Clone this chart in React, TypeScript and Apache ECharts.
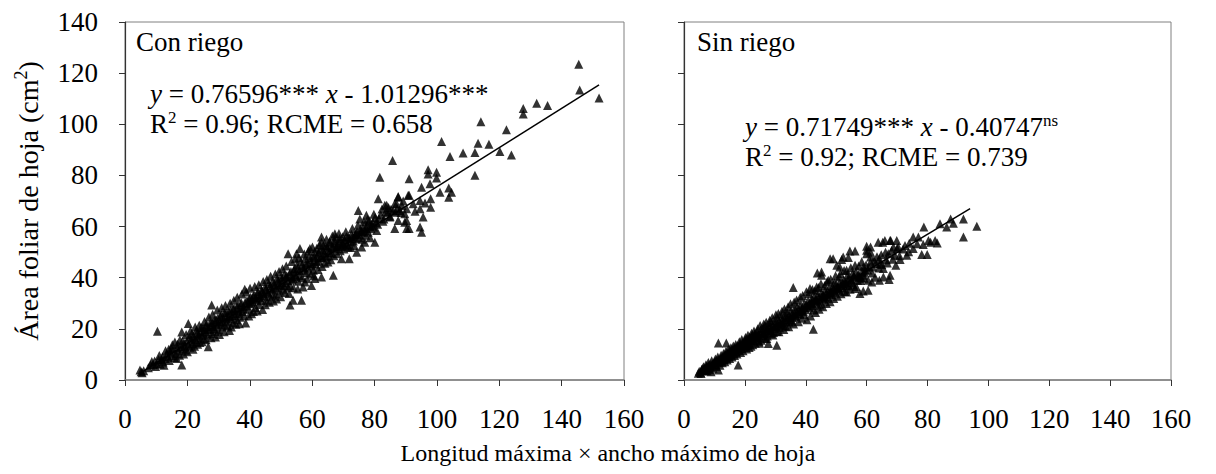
import React, { useEffect, useRef } from "react";
import * as echarts from "echarts";

// Con riego: [longitud × ancho, área foliar]
const conRiego: number[][] = [
  [4.8,3.9],[5.2,3.2],[5.5,2.8],[6.0,3.6],[7.5,4.8],[8.2,5.9],[9.0,6.1],[9.5,7.4],[10.2,6.5],[10.4,19.1],[10.8,8.0],[11.3,6.2],[11.8,7.9],[12.0,9.1],[12.5,5.8],[12.9,8.4],[13.4,10.2],[13.8,9.0],[14.2,7.6],[14.6,10.9],[15.0,9.6],[15.4,11.8],[15.9,8.8],[16.3,10.4],[16.8,12.6],[17.2,11.3],[17.5,9.7],[18.0,13.0],[18.2,5.9],[18.2,18.8],[18.6,12.2],[19.0,14.4],[19.4,11.6],[19.8,15.2],[20.3,22.1],[20.4,13.6],[20.8,12.8],[21.2,16.0],[21.5,14.3],[22.0,17.1],[22.3,13.2],[22.7,15.8],[23.1,18.3],[23.5,16.4],[24.0,14.7],[24.2,19.0],[24.6,17.5],[25.0,20.4],[25.3,16.1],[25.8,18.9],[26.2,21.7],[26.5,17.6],[26.7,13.0],[27.0,19.8],[27.4,22.5],[27.8,29.3],[27.9,18.2],[28.3,20.9],[28.7,23.4],[29.0,16.8],[29.4,21.6],[29.8,24.2],[30.1,19.6],[30.5,22.8],[30.9,25.5],[31.3,20.7],[31.6,23.9],[32.0,21.5],[32.4,26.4],[32.8,23.0],[33.2,24.8],[33.5,19.4],[33.9,27.2],[34.3,25.1],[34.6,22.4],[35.0,28.0],[35.4,26.0],[35.8,23.6],[36.2,29.4],[36.5,27.1],[36.9,24.5],[37.3,30.2],[37.7,26.8],[38.0,28.6],[38.4,35.5],[38.7,22.3],[39.1,31.0],[39.5,27.7],[39.9,29.8],[40.3,32.4],[40.6,25.9],[41.0,30.6],[41.4,33.3],[41.8,28.4],[42.2,31.8],[42.6,34.6],[43.0,29.5],[43.4,32.9],[43.8,35.2],[44.1,27.6],[44.5,33.7],[44.9,36.3],[45.3,31.2],[45.7,34.4],[46.1,37.6],[46.5,32.5],[46.9,35.8],[47.3,38.4],[47.6,30.9],[48.0,36.7],[48.4,33.6],[48.8,39.5],[49.2,37.2],[49.6,34.8],[50.0,40.2],[50.3,38.0],[50.7,35.5],[51.1,41.3],[51.5,37.9],[51.9,40.8],[52.3,49.4],[52.3,36.3],[52.9,37.0],[52.9,29.3],[53.2,42.4],[53.6,39.1],[53.9,31.2],[53.9,39.7],[54.4,43.6],[54.8,40.5],[55.0,49.4],[55.2,45.0],[55.6,38.6],[56.1,51.4],[56.0,42.7],[56.4,46.2],[56.6,31.2],[57.1,36.4],[57.7,38.3],[57.3,44.1],[57.8,47.5],[58.2,42.0],[58.6,45.8],[59.0,48.6],[59.3,51.4],[59.8,37.0],[59.9,44.6],[60.4,42.9],[60.3,47.9],[60.9,39.7],[60.8,50.2],[61.2,45.3],[61.7,48.8],[62.1,46.5],[62.6,51.0],[63.0,40.3],[63.0,55.9],[63.0,53.9],[63.4,47.7],[63.9,49.9],[64.4,52.4],[64.8,48.2],[65.3,50.8],[65.8,53.6],[66.2,49.6],[66.8,41.0],[66.7,52.1],[67.3,57.2],[67.2,54.5],[67.8,51.3],[68.3,53.0],[68.8,55.3],[69.4,47.4],[69.3,52.2],[70.0,53.3],[70.4,54.8],[71.0,56.1],[71.6,52.0],[71.9,47.4],[72.1,55.2],[72.6,57.0],[73.2,54.4],[73.8,56.8],[74.3,50.0],[74.4,58.1],[74.8,66.3],[75.3,63.0],[75.0,55.6],[75.9,52.0],[75.7,57.9],[76.3,59.6],[76.9,53.9],[77.4,64.4],[77.0,58.4],[77.6,60.7],[78.0,57.8],[78.3,62.3],[78.9,59.1],[79.5,61.8],[80.1,53.9],[80.7,58.5],[80.2,63.5],[81.2,70.9],[81.0,60.9],[81.7,79.3],[82.0,64.6],[82.7,62.1],[83.3,68.3],[83.9,68.3],[84.2,65.4],[84.9,63.7],[85.8,85.8],[85.3,66.8],[86.5,68.9],[86.5,59.2],[87.1,68.9],[87.6,71.5],[87.6,62.4],[87.6,71.8],[88.1,66.3],[88.5,65.5],[89.7,61.7],[89.7,65.0],[90.3,67.0],[90.3,62.4],[90.3,59.2],[90.8,72.2],[91.1,72.2],[91.1,59.2],[91.1,78.7],[92.4,68.9],[93.0,66.0],[94.6,70.2],[94.6,67.0],[94.6,59.8],[95.1,75.4],[95.1,57.8],[95.6,63.7],[96.2,69.2],[97.2,82.2],[97.2,80.6],[97.8,76.7],[98.0,70.9],[98.0,67.6],[99.9,81.2],[99.9,79.0],[101.0,73.4],[101.5,93.3],[103.8,75.1],[103.8,71.5],[104.2,87.4],[104.7,73.4],[108.4,88.8],[112.2,89.0],[112.2,80.1],[113.2,92.6],[114.1,101.0],[116.7,92.2],[120.2,89.4],[122.3,97.9],[123.9,88.0],[127.7,106.2],[127.7,104.0],[132.0,108.2],[135.5,107.3],[145.5,123.5],[145.8,113.4],[152.0,110.3],
  [8.6,7.2],[9.8,5.3],[11.0,9.6],[12.2,7.0],[13.0,11.4],[14.0,12.0],[15.2,13.8],[16.0,14.9],[16.6,8.4],[17.6,15.6],[18.8,10.2],[19.6,17.8],[20.0,11.0],[21.0,19.3],[21.8,12.0],[22.5,20.7],[23.3,14.0],[23.8,21.4],[24.7,15.0],[25.5,22.9],[26.0,15.7],[26.9,24.6],[27.6,16.5],[28.1,25.7],[28.9,19.0],[29.6,27.4],[30.3,17.8],[31.0,28.3],[31.8,18.9],[32.2,29.1],[33.0,21.2],[33.7,30.0],[34.1,20.7],[34.9,31.2],[35.6,21.8],[36.0,32.4],[36.7,22.0],[37.5,33.6],[38.2,25.1],[38.9,34.4],[39.7,25.0],[40.1,35.9],[41.2,26.8],[41.6,36.6],[42.4,27.0],[42.9,37.2],[43.6,31.0],[44.3,38.5],[45.0,29.4],[45.5,39.3],[46.3,30.4],[46.7,40.6],[47.5,33.1],[48.2,41.5],[48.6,31.7],[49.4,42.4],[49.9,32.6],[50.5,43.5],[51.3,34.2],[51.7,44.6],[52.6,33.8],[53.4,46.3],[54.0,36.1],[54.6,47.4],[55.4,35.6],[55.8,47.9],[56.8,40.0],[57.5,49.3],[58.4,39.6],[58.8,50.4],[59.6,41.5],[60.1,52.0],[60.6,40.8],[61.5,51.5],[61.9,43.2],[62.4,53.0],[63.2,44.4],[63.7,52.6],[64.1,45.7],[64.6,55.0],[65.1,46.1],[65.6,54.1],[66.0,47.0],[66.5,56.3],[67.0,48.6],[67.5,55.9],[68.0,49.4],[68.6,57.3],[69.0,50.5],[69.8,56.0],[70.2,51.2],[70.8,58.0],[71.3,53.0],[72.4,51.8],[72.9,59.2],[73.5,52.6],[74.0,55.2],[74.7,60.5],[75.5,59.0],[76.0,55.0],[76.6,61.9],[77.2,56.6],[77.8,62.9],[78.6,55.6],[79.2,60.4],[79.8,64.8],[80.5,61.5],[81.4,63.2],[82.4,66.9],[83.0,63.0],[83.6,65.9],[84.5,67.5],[85.0,64.0],[86.0,66.2],[86.8,65.6],[87.3,67.1],[88.8,68.2],[89.2,70.0],
  [14.8,12.3],[16.9,14.0],[18.4,15.3],[19.2,13.1],[20.6,16.8],[21.4,18.0],[22.1,15.0],[22.9,19.5],[23.6,17.6],[24.4,20.6],[25.1,18.4],[25.9,21.1],[26.6,19.7],[27.3,21.0],[28.0,22.6],[28.6,20.1],[29.2,23.6],[29.9,21.9],[30.6,24.8],[31.2,22.6],[31.9,26.2],[32.6,24.3],[33.3,26.9],[34.0,24.0],[34.7,27.7],[35.3,25.1],[36.0,28.3],[36.6,26.1],[37.2,29.3],[37.9,27.8],[38.5,30.3],[39.2,29.0],[39.8,31.7],[40.5,30.1],[41.1,32.6],[41.9,31.4],[42.5,33.6],[43.2,32.3],[43.9,34.6],[44.6,32.8],[45.2,35.6],[45.9,33.9],[46.6,36.9],[47.2,35.2],[47.9,37.8],[48.5,36.1],[49.1,38.9],[49.8,37.1],[50.4,39.6],[51.0,36.9],[51.6,40.4],[52.2,38.9],[52.8,41.6],[53.5,40.2],[54.1,42.9],[54.7,41.3],[55.3,43.6],[56.0,40.8],[56.7,44.7],[57.4,42.9],[58.0,45.4],[58.7,43.7],[59.4,46.9],[60.0,45.6],[60.7,48.1],[61.4,46.3],[62.0,49.6],[62.8,47.9],[63.5,50.5],[64.2,48.6],[64.9,51.9],[65.5,49.9],[66.4,51.7],[67.1,53.6],[67.9,52.4],[68.7,54.3],[69.6,53.7],[70.6,52.6],[71.5,55.7],[72.3,54.0],[73.0,56.1],[74.1,57.3],[75.2,56.8],[76.1,58.0],[77.3,59.3],[78.5,60.2],[79.7,59.8]
];

// Sin riego: [longitud × ancho, área foliar]
const sinRiego: number[][] = [
  [4.7,2.6],[5.0,3.4],[5.4,2.9],[5.8,4.1],[6.2,3.5],[6.6,4.6],[7.0,3.9],[7.4,5.2],[7.8,4.4],[8.2,5.8],[8.6,5.0],[8.9,3.2],[9.3,6.4],[9.7,5.6],[10.1,7.1],[10.5,6.2],[10.9,7.8],[11.3,3.9],[11.3,14.5],[11.6,6.9],[12.0,8.5],[12.4,7.4],[12.8,9.2],[13.2,8.0],[13.6,9.9],[13.9,14.5],[14.0,8.6],[14.4,10.6],[14.8,9.3],[15.2,11.3],[15.6,9.8],[16.0,12.0],[16.4,10.5],[16.8,12.7],[17.2,11.1],[17.6,13.4],[17.8,5.9],[18.0,11.7],[18.4,14.0],[18.8,12.3],[19.2,14.7],[19.6,12.9],[20.0,15.4],[20.4,13.5],[20.8,16.1],[21.2,14.1],[21.6,16.8],[22.0,13.2],[22.4,17.4],[22.8,15.3],[23.2,18.1],[23.6,16.0],[24.0,18.8],[24.4,16.6],[24.8,14.4],[25.2,19.6],[25.6,17.3],[26.0,20.2],[26.4,18.0],[26.8,21.0],[27.2,16.2],[27.7,14.3],[27.6,18.7],[28.0,21.8],[28.4,19.4],[28.8,22.5],[29.2,17.6],[29.6,20.1],[30.0,23.3],[30.5,13.6],[30.4,20.8],[30.8,24.0],[31.2,18.9],[31.6,21.5],[32.0,24.8],[32.4,22.2],[32.8,19.7],[33.2,25.6],[33.6,23.0],[34.0,26.3],[34.4,20.8],[34.8,23.7],[35.2,27.1],[35.6,24.4],[35.9,36.2],[36.0,21.9],[36.4,27.8],[36.8,25.2],[37.2,28.6],[37.6,22.8],[38.0,26.0],[38.4,29.4],[38.8,24.1],[39.2,26.8],[39.6,30.1],[40.0,27.5],[40.4,23.6],[40.8,31.0],[41.2,28.3],[41.4,35.8],[41.6,25.0],[42.0,31.8],[42.5,19.8],[42.4,29.1],[42.8,32.6],[43.2,26.4],[43.6,36.4],[43.8,41.8],[43.6,30.0],[44.0,33.4],[44.4,27.7],[44.8,30.8],[45.2,42.2],[45.2,41.0],[45.2,34.2],[45.6,28.6],[46.0,31.6],[46.4,35.0],[46.8,29.9],[47.2,32.5],[47.4,39.0],[47.6,35.8],[48.0,47.4],[48.0,30.6],[48.4,33.4],[48.8,36.6],[49.0,47.4],[49.2,31.9],[49.6,34.3],[50.0,37.4],[50.2,44.9],[50.4,32.8],[50.8,35.1],[51.0,40.3],[51.2,44.2],[51.2,38.2],[51.8,47.1],[51.6,33.7],[52.0,36.0],[52.3,48.1],[52.4,39.0],[52.8,34.6],[53.4,42.9],[53.4,34.4],[53.2,37.0],[54.0,47.9],[54.5,50.4],[54.0,39.8],[54.6,35.5],[55.2,38.0],[55.8,40.6],[56.2,50.4],[56.2,44.9],[56.2,35.8],[56.6,36.6],[57.2,41.4],[57.8,40.3],[57.8,33.8],[58.0,38.9],[58.6,42.2],[58.9,44.2],[58.9,34.8],[59.2,39.8],[59.5,42.9],[60.0,52.3],[60.0,50.7],[60.0,49.4],[60.5,39.0],[60.5,35.1],[60.4,43.0],[61.3,52.0],[61.3,50.0],[61.3,48.1],[61.3,46.1],[61.7,38.3],[62.0,44.2],[63.0,45.6],[63.8,53.9],[64.2,47.4],[64.2,39.0],[64.4,45.5],[65.3,53.9],[65.5,43.6],[65.5,40.3],[66.0,54.6],[66.5,47.0],[67.1,49.4],[67.4,39.3],[67.7,54.6],[67.7,41.0],[67.9,54.6],[68.8,52.0],[69.3,48.8],[69.6,44.9],[69.9,54.6],[70.4,52.0],[71.0,47.1],[72.0,51.2],[73.2,48.8],[74.0,53.5],[75.3,51.4],[75.3,55.9],[76.6,53.3],[77.0,55.9],[78.1,49.1],[78.6,53.0],[78.8,59.8],[79.9,49.1],[80.3,54.6],[81.0,53.9],[82.5,54.6],[83.2,53.6],[84.1,61.1],[86.3,59.8],[87.6,63.0],[88.5,61.3],[91.8,63.0],[91.8,55.9],[96.2,60.1],
  [5.6,2.5],[6.4,5.2],[7.2,6.0],[7.6,3.6],[8.0,6.8],[8.4,4.0],[9.1,7.5],[9.5,4.6],[10.3,8.2],[10.7,5.3],[11.1,9.0],[11.8,5.8],[12.2,9.7],[12.6,6.7],[13.0,10.4],[13.4,7.1],[13.8,11.2],[14.2,7.8],[14.6,12.0],[15.0,8.4],[15.4,12.6],[15.8,9.0],[16.2,13.3],[16.6,9.6],[17.0,13.9],[17.4,10.2],[18.2,15.0],[18.6,10.8],[19.0,15.8],[19.4,11.4],[20.2,16.6],[20.6,12.1],[21.0,17.5],[21.4,12.7],[22.2,18.3],[22.6,13.8],[23.0,19.2],[23.4,14.4],[24.2,20.0],[24.6,15.2],[25.0,21.3],[25.4,15.5],[26.2,21.9],[26.6,16.3],[27.0,22.6],[27.4,17.2],[28.2,23.4],[28.6,18.1],[29.0,24.3],[29.4,18.6],[30.2,25.5],[30.6,19.0],[31.0,26.0],[31.4,20.4],[32.2,26.9],[32.6,21.2],[33.0,27.8],[33.4,21.0],[34.2,28.6],[34.6,22.6],[35.0,29.8],[35.4,23.0],[36.2,30.5],[36.6,24.7],[37.0,31.3],[37.4,25.8],[38.2,32.4],[38.6,27.3],[39.0,33.0],[39.4,25.6],[40.2,34.5],[40.6,28.8],[41.0,33.8],[41.8,30.2],[42.2,35.4],[42.6,27.4],[43.0,34.9],[43.4,31.5],[44.2,36.2],[44.6,29.3],[45.0,37.6],[45.8,33.0],[46.2,37.0],[46.6,32.0],[47.0,38.4],[47.8,33.6],[48.2,39.4],[48.6,34.8],[49.4,38.0],[49.8,40.8],[50.6,36.4],[51.4,41.6],[52.2,37.5],[52.6,42.8],[53.0,38.4],[53.8,41.2],[54.2,36.8],[54.8,43.9],[55.4,41.6],[55.6,37.2],[56.4,42.1],[57.0,39.0],[57.4,44.6],[58.2,40.0],[58.4,46.2],[59.0,41.0],[59.8,45.0],[60.8,44.2],[61.8,41.8],[62.4,46.8],[62.8,40.2],[63.4,48.2],[64.0,43.8],[64.8,49.0],[65.0,45.2],[66.2,50.0],[66.8,45.8],[68.2,50.6],[68.6,47.2],[70.0,51.4],[70.8,48.6],[72.6,52.6],[73.8,50.2],
  [6.0,4.4],[6.8,3.8],[7.9,5.6],[8.8,6.2],[9.9,6.8],[10.6,7.4],[11.4,7.9],[12.1,8.1],[12.9,8.7],[13.7,9.5],[14.3,9.9],[15.1,10.5],[15.7,11.2],[16.5,11.7],[17.3,12.3],[17.9,12.9],[18.7,13.1],[19.5,13.8],[20.1,14.4],[20.9,14.8],[21.7,15.4],[22.3,15.9],[23.1,16.7],[23.9,17.1],[24.5,17.5],[25.3,18.2],[26.1,18.6],[26.9,19.4],[27.5,19.9],[28.3,20.3],[29.1,21.0],[29.9,21.2],[30.7,22.1],[31.5,22.6],[32.3,23.4],[33.1,23.8],[33.9,24.4],[34.7,25.0],[35.5,25.6],[36.3,26.0],[37.1,26.7],[37.9,27.3],[38.7,27.9],[39.5,28.4],[40.3,29.2],[41.1,29.6],[41.9,30.0],[42.7,30.9],[43.5,31.2],[44.3,32.1],[45.1,32.6],[45.9,32.8],[46.7,33.8],[47.5,34.1],[48.3,34.4],[49.1,35.5],[49.9,35.7],[50.7,36.1],[51.5,37.0],[52.3,37.6],[53.1,38.0],[53.9,38.8],[55.0,39.3],[56.0,40.2],[57.5,41.0],[59.2,42.1]
];

// Regression: [slope, intercept], x range of the fitted line
const conCoef = [0.76596, -1.01296];
const sinCoef = [0.71749, -0.40747];
const conRange = [5, 152];
const sinRange = [5, 94];

const xTicks = [0, 20, 40, 60, 80, 100, 120, 140, 160];
const yTicks = [0, 20, 40, 60, 80, 100, 120, 140];

const FF = "Liberation Serif";
const FONT = "27px Liberation Serif";
const FONT_AX = "24px Liberation Serif";

function fitLine(coef: number[], range: number[]) {
  return range.map((x) => [x, coef[0] * x + coef[1]]);
}

export default function App() {
  const ref = useRef<HTMLDivElement>(null);
  useEffect(() => {
    if (!ref.current) return;
    const chart = echarts.init(ref.current, null, { renderer: "svg" });
    const grids = [
      { left: 125, top: 22, width: 499, height: 358 },
      { left: 684, top: 22, width: 487, height: 358 },
    ];
    const tickRich = { t: { fontFamily: FF, fontSize: 27, color: "#000", lineHeight: 27 } };
    const xAxisBase = (i: number) => ({
      type: "value",
      gridIndex: i,
      min: xTicks[0],
      max: xTicks[xTicks.length - 1],
      interval: 20,
      axisLine: { show: true, lineStyle: { color: "#808080", width: 1.5 } },
      axisTick: { show: true, length: 6, inside: false, lineStyle: { color: "#333" } },
      axisLabel: {
        show: true,
        fontFamily: FF,
        fontSize: 27,
        color: "#000",
        margin: 25,
        formatter: "{t|{value}}",
        rich: tickRich,
      },
      splitLine: { show: false },
    });
    const yAxisBase = (i: number) => ({
      type: "value",
      gridIndex: i,
      min: yTicks[0],
      max: yTicks[yTicks.length - 1],
      interval: 20,
      axisLine: { show: true, lineStyle: { color: "#333", width: 1.2 } },
      axisTick: { show: true, length: 6, inside: false, lineStyle: { color: "#333" } },
      axisLabel: {
        show: i === 0,
        fontFamily: FF,
        fontSize: 27,
        color: "#000",
        margin: 27,
        formatter: "{t|{value}}",
        rich: tickRich,
      },
      splitLine: { show: false },
    });
    const sym = "triangle";
    const sup = { fontFamily: FF, fontSize: 17, verticalAlign: "top", lineHeight: 30 };
    const ital = { fontFamily: FF, fontSize: 27, fontStyle: "italic", lineHeight: 30 };
    const norm = { fontFamily: FF, fontSize: 27, lineHeight: 30 };
    const option: any = {
      animation: false,
      textStyle: { fontFamily: FF, fontSize: 27, color: "#000" },
      grid: grids.map((g) => ({ ...g, show: true, borderColor: "#808080", borderWidth: 1, backgroundColor: "transparent" })),
      xAxis: [xAxisBase(0), xAxisBase(1)],
      yAxis: [yAxisBase(0), yAxisBase(1)],
      series: [
        {
          type: "scatter",
          xAxisIndex: 0,
          yAxisIndex: 0,
          data: conRiego,
          symbol: sym,
          symbolSize: 9,
          itemStyle: { color: "#000" },
        },
        {
          type: "line",
          xAxisIndex: 0,
          yAxisIndex: 0,
          data: fitLine(conCoef, conRange),
          showSymbol: false,
          lineStyle: { color: "#000", width: 1.5 },
        },
        {
          type: "scatter",
          xAxisIndex: 1,
          yAxisIndex: 1,
          data: sinRiego,
          symbol: sym,
          symbolSize: 9,
          itemStyle: { color: "#000" },
        },
        {
          type: "line",
          xAxisIndex: 1,
          yAxisIndex: 1,
          data: fitLine(sinCoef, sinRange),
          showSymbol: false,
          lineStyle: { color: "#000", width: 1.5 },
        },
      ],
      graphic: [
        { type: "text", left: 136, top: 28, style: { text: "Con riego", font: FONT, fill: "#000" } },
        { type: "text", left: 697, top: 28, style: { text: "Sin riego", font: FONT, fill: "#000" } },
        {
          type: "text",
          left: 150,
          top: 79,
          style: {
            text: "{i|y}{n| = 0.76596*** }{i|x}{n| - 1.01296***}\n{n|R}{s|2}{n| = 0.96; RCME = 0.658}",
            font: FONT,
            fill: "#000",
            lineHeight: 30,
            rich: { i: ital, s: sup, n: norm },
          },
        },
        {
          type: "text",
          left: 745,
          top: 112,
          style: {
            text: "{i|y}{n| = 0.71749*** }{i|x}{n| - 0.40747}{s|ns}\n{n|R}{s|2}{n| = 0.92; RCME = 0.739}",
            font: FONT,
            fill: "#000",
            lineHeight: 30,
            rich: { i: ital, s: sup, n: norm },
          },
        },
        {
          type: "text",
          x: 28,
          y: 201,
          rotation: Math.PI / 2,
          style: {
            text: "{n|Área foliar de hoja (cm}{s|2}{n|)}",
            font: "28px Liberation Serif",
            fill: "#000",
            align: "center",
            verticalAlign: "middle",
            rich: {
              n: { fontFamily: FF, fontSize: 28, lineHeight: 32 },
              s: { fontFamily: FF, fontSize: 18, verticalAlign: "top", lineHeight: 32 },
            },
          },
        },
        {
          type: "text",
          x: 608,
          y: 453,
          style: {
            text: "Longitud máxima × ancho máximo de hoja",
            font: FONT_AX,
            fill: "#000",
            align: "center",
            verticalAlign: "middle",
          },
        },
      ],
    };
    chart.setOption(option);
    return () => chart.dispose();
  }, []);
  return <div ref={ref} style={{ width: 1216, height: 474, margin: -8 }} />;
}
